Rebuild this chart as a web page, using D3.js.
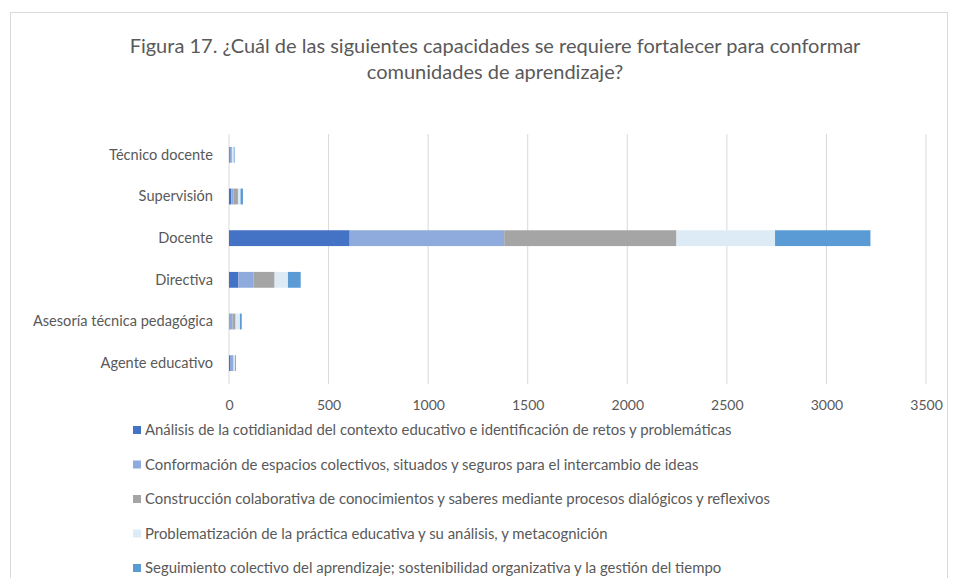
<!DOCTYPE html>
<html>
<head>
<meta charset="utf-8">
<script src="https://cdn.jsdelivr.net/npm/d3@7"></script>
<style>
  body { margin: 0; background: #fff; }
  svg text { font-family: Lato, "Open Sans", sans-serif; fill: #595959; }
</style>
</head>
<body>
<div id="wrapper"></div>
<script>
// categories, bottom to top as in the picture
const categories = ["Agente educativo", "Asesoría técnica pedagógica", "Directiva", "Docente", "Supervisión", "Técnico docente"];

const seriesNames = [
  "Análisis de la cotidianidad del contexto educativo e identificación de retos y problemáticas",
  "Conformación de espacios colectivos, situados y seguros para el intercambio de ideas",
  "Construcción colaborativa de conocimientos y saberes mediante procesos dialógicos y reflexivos",
  "Problematización de la práctica educativa y su análisis, y metacognición",
  "Seguimiento colectivo del aprendizaje; sostenibilidad organizativa y la gestión del tiempo"
];

// one array per series, same order as categories
const analisis     = [5, 3, 47, 606, 12, 4];
const conformacion = [15, 15, 77, 776, 10, 10];
const construccion = [3, 15, 105, 865, 23, 2];
const problematiz  = [8, 22, 67, 495, 13, 8];
const seguimiento  = [4, 9, 64, 479, 12, 4];

const seriesValues = [analisis, conformacion, construccion, problematiz, seguimiento];
const colors = ["#4472C4", "#8FAADC", "#A5A5A5", "#DDEBF7", "#5B9BD5"];
const xTicks = [0, 500, 1000, 1500, 2000, 2500, 3000, 3500];

const titleLines = ["Figura 17. ¿Cuál de las siguientes capacidades se requiere fortalecer para conformar",
                    "comunidades de aprendizaje?"];

const width = 956, height = 578;
const plot = { left: 229, right: 926, top: 134, bottom: 384 };

const svg = d3.select("#wrapper").append("svg")
  .attr("width", width)
  .attr("height", height);

// chart frame (bottom is cut off in the picture)
svg.append("rect")
  .attr("x", 10.5).attr("y", 12.5)
  .attr("width", 937).attr("height", 600)
  .attr("fill", "none")
  .attr("stroke", "#d9d9d9");

// title
svg.selectAll(".title")
  .data(titleLines)
  .enter()
  .append("text")
  .attr("class", "title")
  .attr("x", 495)
  .attr("y", (d, i) => 53 + i * 26)
  .attr("text-anchor", "middle")
  .style("font-size", "20px")
  .text(d => d);

// table built from the arrays
const table = categories.map((c, i) => {
  const row = { category: c };
  seriesNames.forEach((s, j) => { row[s] = seriesValues[j][i]; });
  return row;
});
const stacked = d3.stack().keys(seriesNames)(table);

const xScale = d3.scaleLinear()
  .domain([0, 3500])
  .range([plot.left, plot.right]);

const yScale = d3.scaleBand()
  .domain(categories.slice().reverse())
  .range([plot.top, plot.bottom])
  .paddingInner(0.62)
  .paddingOuter(0.31);

// gridlines
svg.selectAll(".grid")
  .data(xTicks)
  .enter()
  .append("line")
  .attr("x1", d => xScale(d))
  .attr("x2", d => xScale(d))
  .attr("y1", plot.top)
  .attr("y2", plot.bottom)
  .attr("stroke", "#d9d9d9")
  .attr("stroke-width", 1);

// bars
const groups = svg.selectAll(".series")
  .data(stacked)
  .enter()
  .append("g")
  .attr("fill", (d, i) => colors[i]);

groups.selectAll("rect")
  .data(d => d)
  .enter()
  .append("rect")
  .attr("x", d => xScale(d[0]))
  .attr("y", d => yScale(d.data.category))
  .attr("width", d => xScale(d[1]) - xScale(d[0]))
  .attr("height", yScale.bandwidth());

// x axis labels
const xAxis = d3.axisBottom(xScale).tickValues(xTicks).tickFormat(d3.format("d")).tickSize(0).tickPadding(16);
const xg = svg.append("g")
  .attr("transform", `translate(0,${plot.bottom})`)
  .call(xAxis);
xg.select(".domain").remove();
xg.selectAll("text").style("font-size", "14px").attr("fill", "#595959");

// y axis labels
const yAxis = d3.axisLeft(yScale).tickSize(0).tickPadding(16);
const yg = svg.append("g")
  .attr("transform", `translate(${plot.left},0)`)
  .call(yAxis);
yg.select(".domain").remove();
yg.selectAll("text").style("font-size", "14.6px").attr("fill", "#595959");

// legend
const legend = svg.selectAll(".legend")
  .data(seriesNames)
  .enter()
  .append("g")
  .attr("transform", (d, i) => `translate(133,${430 + i * 34.5})`);

legend.append("rect")
  .attr("x", 0).attr("y", -4)
  .attr("width", 8).attr("height", 8)
  .attr("fill", (d, i) => colors[i]);

legend.append("text")
  .attr("x", 12)
  .attr("y", 5)
  .style("font-size", "14.9px")
  .text(d => d);
</script>
</body>
</html>
